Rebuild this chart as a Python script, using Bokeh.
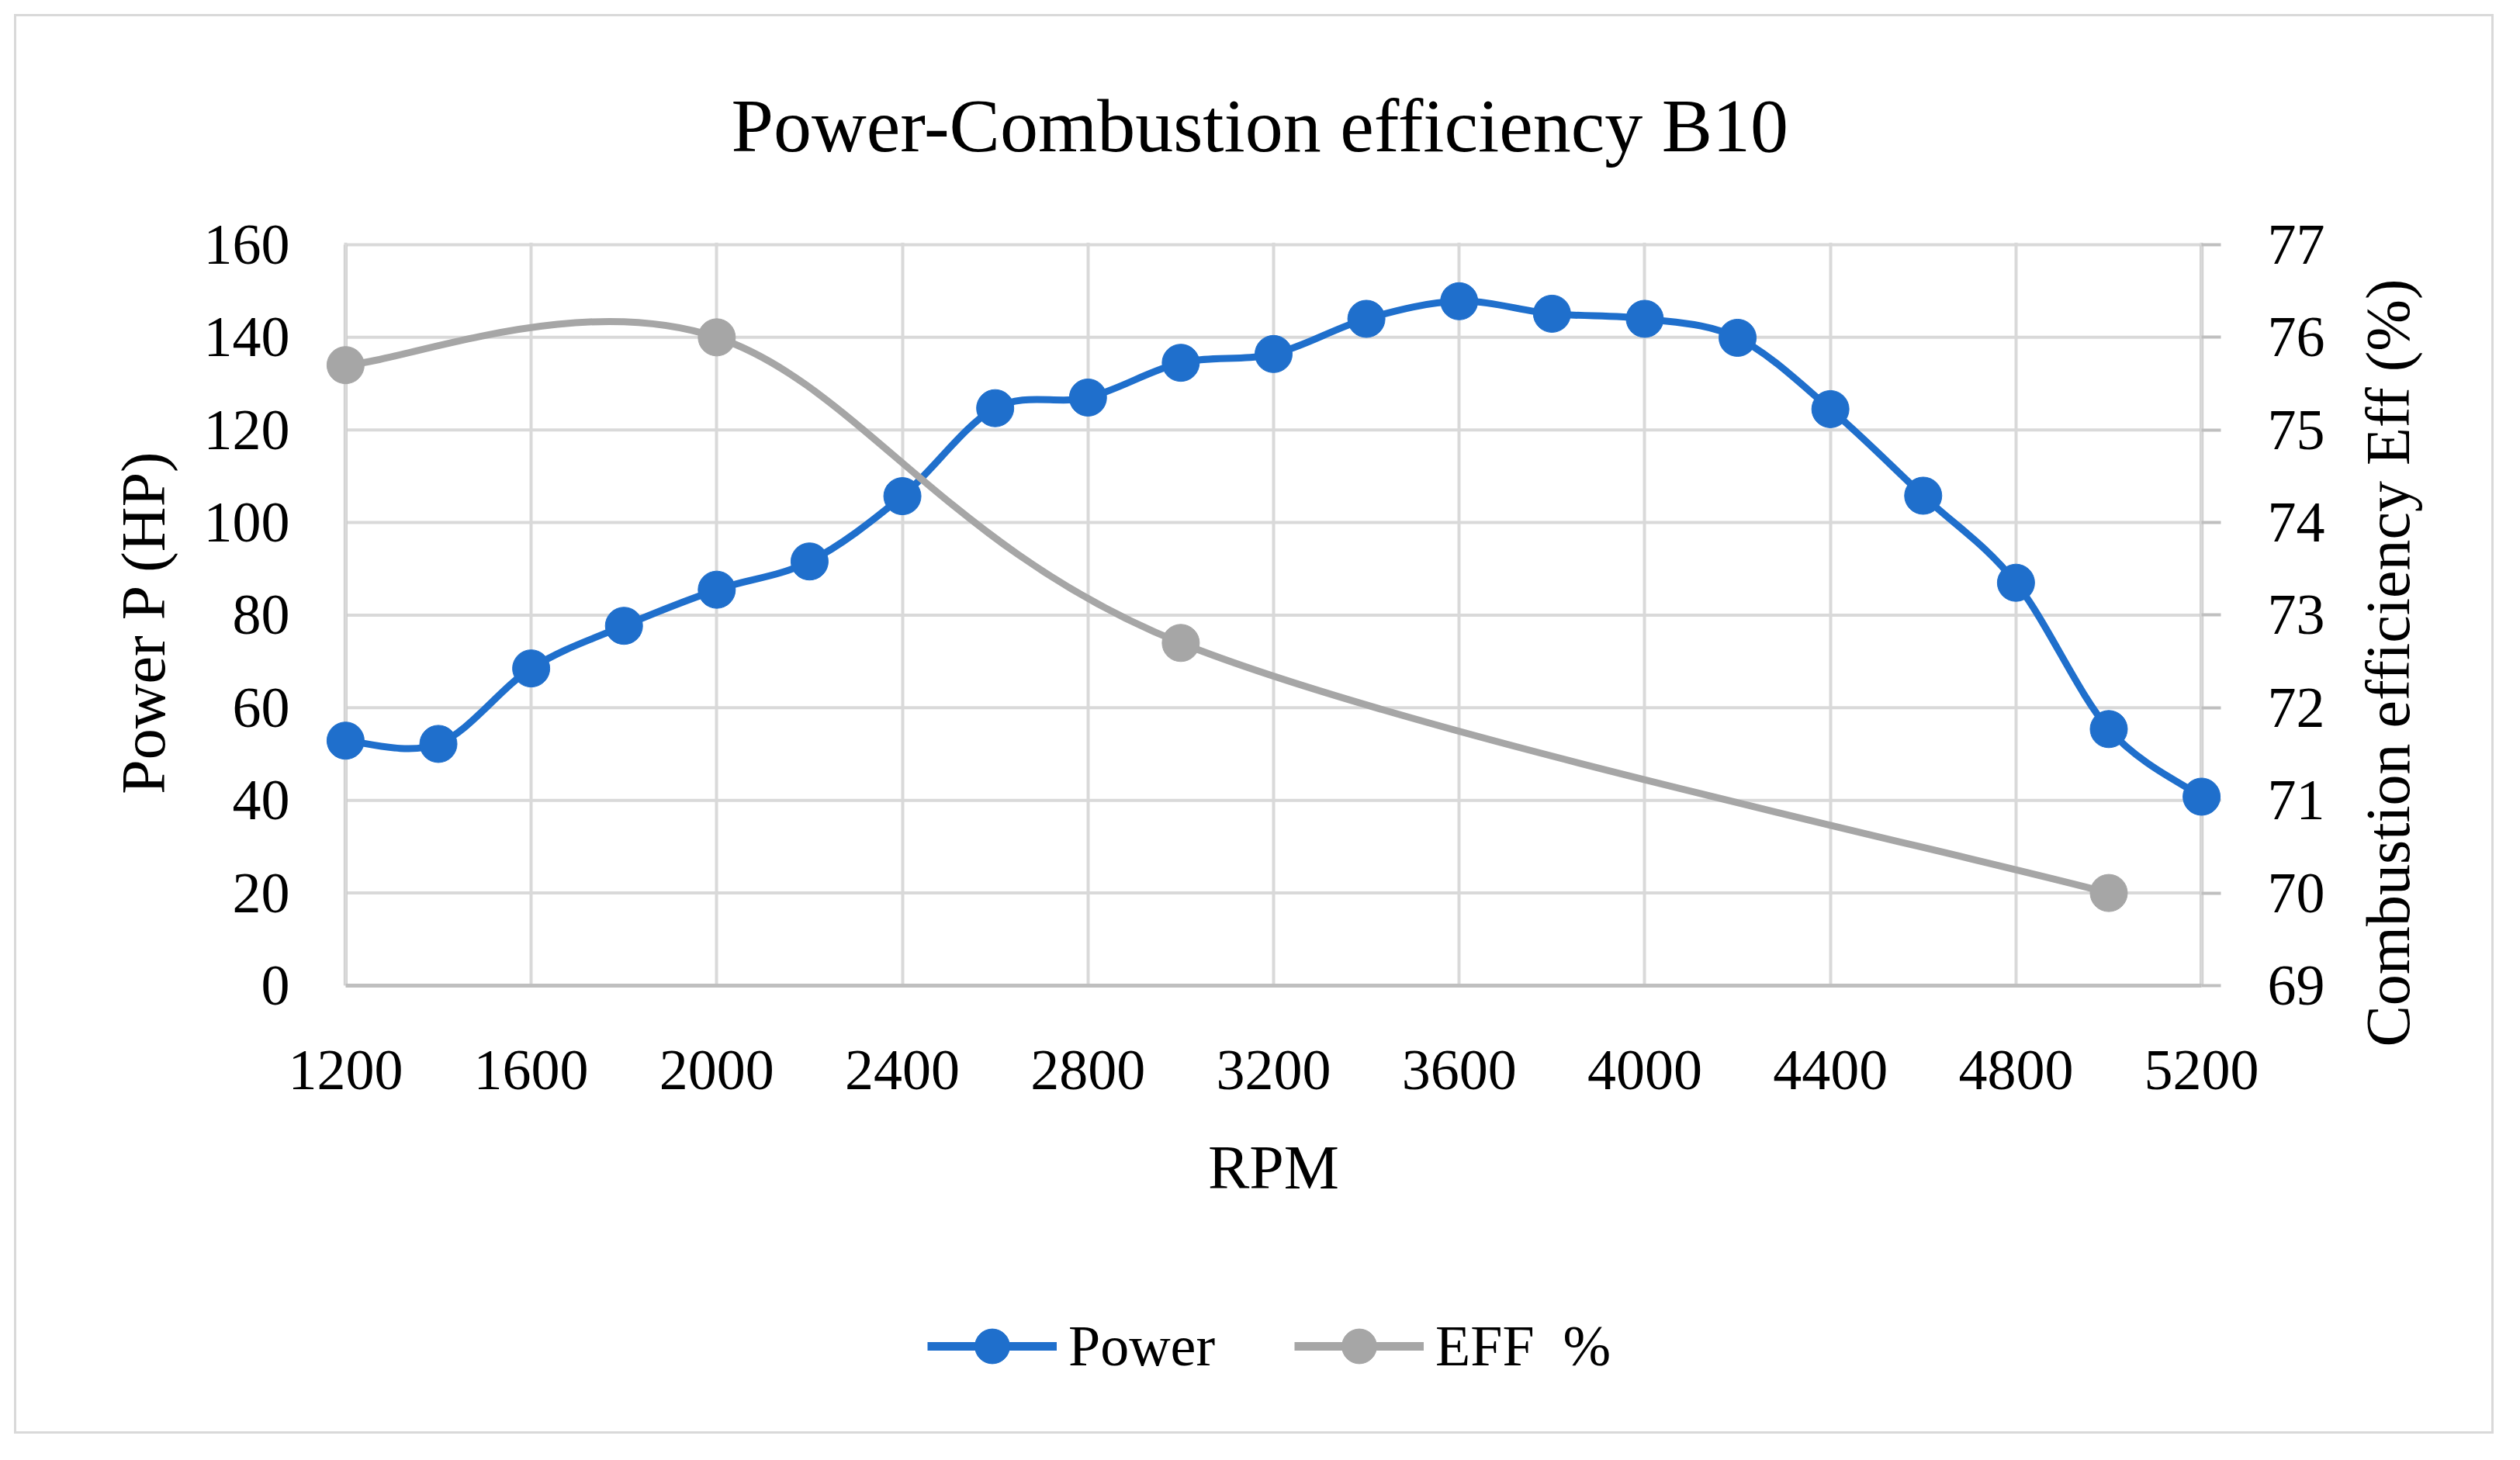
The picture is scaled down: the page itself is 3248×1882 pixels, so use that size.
import math
from bokeh.plotting import figure
from bokeh.layouts import column
from bokeh.models import (Range1d, LinearAxis, FixedTicker, Legend, LegendItem,
                          Label, Title, ColumnDataSource)
from bokeh.embed import file_html
from bokeh.resources import INLINE

# ---------------- data ----------------
rpm = [1200, 1400, 1600, 1800, 2000, 2200, 2400, 2600, 2800, 3000, 3200,
       3400, 3600, 3800, 4000, 4200, 4400, 4600, 4800, 5000, 5200]
power = [52.9, 52.2, 68.5, 77.7, 85.5, 91.6, 105.7, 124.7, 127.0, 134.5, 136.4,
         144.0, 147.8, 145.1, 144.0, 139.9, 124.5, 105.8, 87.0, 55.4, 40.8]
eff_rpm = [1200, 2000, 3000, 5000]
eff = [75.7, 76.0, 72.7, 70.0]

x_ticks = [1200, 1600, 2000, 2400, 2800, 3200, 3600, 4000, 4400, 4800, 5200]
power_ticks = [0, 20, 40, 60, 80, 100, 120, 140, 160]
eff_ticks = [69, 70, 71, 72, 73, 74, 75, 76, 77]

title_text = "Power-Combustion efficiency B10"
x_title = "RPM"
y_title = "Power  P (HP)"
y2_title = "Combustion efficiency  Eff (%)"
series_names = ["Power", "EFF  %"]

BLUE = "#1F6FCC"
GRAY = "#A6A6A6"
GRID = "#D9D9D9"
AXIS = "#BFBFBF"
FONT = "Liberation Serif"

X0, X1 = x_ticks[0], x_ticks[-1]
Y0, Y1 = power_ticks[0], power_ticks[-1]
E0, E1 = eff_ticks[0], eff_ticks[-1]
XPAD = 50      # room so the end markers are not cut
YPAD = 0.5     # room so the top grid line is fully visible

W = 3232
H_MAIN = 1606
H_LEG = 260


def smooth_segments(xs, ys):
    """Excel-like smoothed line: cubic Bezier control points from neighbours."""
    n = len(xs)
    d = dict(x0=[], y0=[], x1=[], y1=[], cx0=[], cy0=[], cx1=[], cy1=[])
    for i in range(n - 1):
        ip = max(i - 1, 0)
        inx = min(i + 2, n - 1)
        d["x0"].append(xs[i]); d["y0"].append(ys[i])
        d["x1"].append(xs[i + 1]); d["y1"].append(ys[i + 1])
        d["cx0"].append(xs[i] + (xs[i + 1] - xs[ip]) / 6.0)
        d["cy0"].append(ys[i] + (ys[i + 1] - ys[ip]) / 6.0)
        d["cx1"].append(xs[i + 1] - (xs[inx] - xs[i]) / 6.0)
        d["cy1"].append(ys[i + 1] - (ys[inx] - ys[i]) / 6.0)
    return ColumnDataSource(d)


p = figure(width=W, height=H_MAIN, output_backend="svg", toolbar_location=None,
           x_range=Range1d(X0 - XPAD, X1 + XPAD), y_range=Range1d(Y0, Y1 + YPAD),
           title=None,
           min_border_left=415, min_border_right=365,
           min_border_top=312, min_border_bottom=H_MAIN - 1270)
p.extra_y_ranges = {"eff": Range1d(E0, E0 + (E1 - E0) * (Y1 + YPAD - Y0) / (Y1 - Y0))}
p.outline_line_color = None
p.border_fill_color = None
p.background_fill_color = None

# grids: vertical via grid, horizontal via segments bounded to the axis span
xt = FixedTicker(ticks=x_ticks)
p.xaxis.ticker = xt
p.xgrid.ticker = xt
p.xgrid.grid_line_color = GRID
p.xgrid.grid_line_width = 4
p.ygrid.visible = False
p.segment(x0=[X0] * len(power_ticks), x1=[X1] * len(power_ticks),
          y0=power_ticks, y1=power_ticks, line_color=GRID, line_width=4,
          level="underlay")
# vertical axis lines at the ends of the RPM span
p.segment(x0=[X0, X1], x1=[X0, X1], y0=[Y0, Y0], y1=[Y1, Y1],
          line_color=AXIS, line_width=5, level="underlay")

# axes styling
p.yaxis.ticker = FixedTicker(ticks=power_ticks)
p.xaxis.bounds = (X0, X1)
for ax in (p.xaxis, p.yaxis):
    ax.axis_line_color = AXIS
    ax.axis_line_width = 5
    ax.major_tick_out = 0
    ax.major_tick_in = 0
    ax.minor_tick_out = 0
    ax.minor_tick_line_color = None
    ax.major_label_text_font = FONT
    ax.major_label_text_font_size = "74px"
    ax.major_label_text_color = "black"
    ax.axis_label_text_font = FONT
    ax.axis_label_text_font_size = "80px"
    ax.axis_label_text_font_style = "normal"
    ax.axis_label_text_color = "black"
p.yaxis.axis_line_color = None

p.xaxis.axis_label = x_title
p.xaxis.major_label_standoff = 84
p.xaxis.axis_label_standoff = 54
p.yaxis.axis_label = y_title
p.yaxis.major_label_standoff = 42
p.yaxis.axis_label_standoff = 31

raxis = LinearAxis(y_range_name="eff", ticker=FixedTicker(ticks=eff_ticks))
raxis.axis_line_color = None
raxis.major_tick_in = 30
raxis.major_tick_out = -5
raxis.minor_tick_out = 0
raxis.minor_tick_in = 0
raxis.major_tick_line_color = AXIS
raxis.major_tick_line_width = 4
raxis.minor_tick_line_color = None
raxis.major_label_standoff = 55
raxis.major_label_text_font = FONT
raxis.major_label_text_font_size = "74px"
raxis.major_label_text_color = "black"
p.add_layout(raxis, "right")

# right axis title, reading bottom-to-top like the left one
rtitle = Label(x=78, y=426, x_units="screen", y_units="screen", text=y2_title,
               angle=math.pi / 2, text_align="center", text_baseline="middle",
               text_font=FONT, text_font_size="80px", text_color="black")
p.add_layout(rtitle, "right")

# series
pb = p.bezier(x0="x0", y0="y0", x1="x1", y1="y1", cx0="cx0", cy0="cy0",
              cx1="cx1", cy1="cy1", source=smooth_segments(rpm, power),
              line_color=BLUE, line_width=9, line_cap="round", level="overlay")
ps = p.scatter(rpm, power, size=48, marker="circle", fill_color=BLUE,
               line_color=BLUE, line_width=1, level="overlay")
eb = p.bezier(x0="x0", y0="y0", x1="x1", y1="y1", cx0="cx0", cy0="cy0",
              cx1="cx1", cy1="cy1", source=smooth_segments(eff_rpm, eff),
              line_color=GRAY, line_width=9, line_cap="round", y_range_name="eff",
              level="overlay")
es = p.scatter(eff_rpm, eff, size=48, marker="circle", fill_color=GRAY,
               line_color=GRAY, line_width=1, y_range_name="eff", level="overlay")

title = Title(text=title_text, align="left", offset=527, text_font=FONT,
              text_font_size="98px", text_font_style="normal",
              text_color="black", standoff=193)
p.add_layout(title, "above")

# legend strip below the chart (its own canvas, so nothing is clipped);
# its series carry the same data but lie outside this strip's view
q = figure(width=W, height=H_LEG, output_backend="svg", toolbar_location=None,
           x_range=Range1d(0, 1), y_range=Range1d(0, 1), title=None,
           x_axis_type=None, y_axis_type=None, min_border=0)
q.outline_line_color = None
q.border_fill_color = None
q.background_fill_color = None
q.grid.visible = False
lp = q.line(rpm, power, line_color=BLUE, line_width=11)
sp = q.scatter(rpm, power, marker="circle", fill_color=BLUE, line_color=BLUE)
le = q.line(eff_rpm, eff, line_color=GRAY, line_width=11)
se = q.scatter(eff_rpm, eff, marker="circle", fill_color=GRAY, line_color=GRAY)

legend = Legend(items=[LegendItem(label=series_names[0], renderers=[lp, sp]),
                       LegendItem(label=series_names[1], renderers=[le, se])],
                location=(780, 75), orientation="horizontal",
                glyph_width=167, glyph_height=112, label_standoff=15, spacing=102,
                padding=0, margin=0, border_line_color=None,
                background_fill_alpha=0,
                label_text_font=FONT, label_text_font_size="74px",
                label_text_color="black")
q.add_layout(legend, "center")

page = column(p, q, spacing=0,
              styles={"outline": "3px solid #D9D9D9", "outline-offset": "-21px",
                      "background-color": "white"})

open("out.html", "w").write(file_html(page, INLINE))
